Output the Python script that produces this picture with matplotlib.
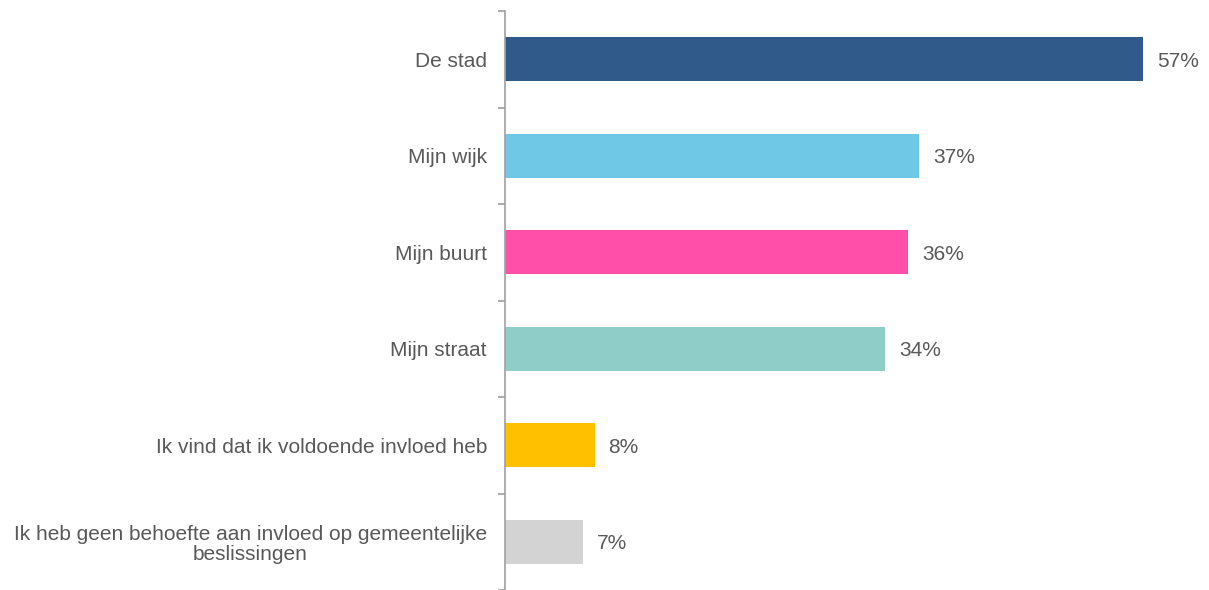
import numpy as np
import matplotlib.pyplot as plt

# categorieen en percentages (boven naar beneden)
categorieen = [
    "De stad",
    "Mijn wijk",
    "Mijn buurt",
    "Mijn straat",
    "Ik vind dat ik voldoende invloed heb",
    "Ik heb geen behoefte aan invloed op gemeentelijke\nbeslissingen",
]
waarden = [57, 37, 36, 34, 8, 7]
kleuren = ["#305A8A", "#6EC8E6", "#FF4FA8", "#8ECDC8", "#FFC000", "#D3D3D3"]

tekstkleur = "#595959"
plt.rcParams['font.family'] = ['Liberation Sans', 'DejaVu Sans']

fig = plt.figure(figsize=(12.09, 5.90), dpi=100)
ax = fig.add_axes([505 / 1209, 0.0, 1 - 505 / 1209, 1 - 11 / 590])

y = np.arange(len(categorieen))
ax.barh(y, waarden, height=0.46, color=kleuren)

for yi, v in zip(y, waarden):
    ax.text(v + 1.25, yi, f"{v}%", va="center_baseline", ha="left",
            fontsize=15, color=tekstkleur)

ax.set_ylim(len(categorieen) - 0.5, -0.5)
ax.set_xlim(0, (1209 - 505) / 11.19)
ax.set_yticks(y)
ax.set_yticklabels(categorieen, fontsize=15, color=tekstkleur)
# rechts uitlijnen van de labels, meerregelig label gecentreerd
for lbl in ax.get_yticklabels():
    lbl.set_horizontalalignment("right")
    lbl.set_multialignment("center")
    lbl.set_linespacing(1.1)
ax.tick_params(axis="y", which="major", length=0, pad=13)
ax.set_yticks(np.arange(-0.5, len(categorieen)), minor=True)
ax.tick_params(axis="y", which="minor", length=5, color="#A0A0A0", width=1.2)

ax.set_xticks([])
for s in ["top", "right", "bottom"]:
    ax.spines[s].set_visible(False)
ax.spines["left"].set_color("#A0A0A0")
ax.spines["left"].set_linewidth(1.2)

fig.savefig("out.png", dpi=100)
